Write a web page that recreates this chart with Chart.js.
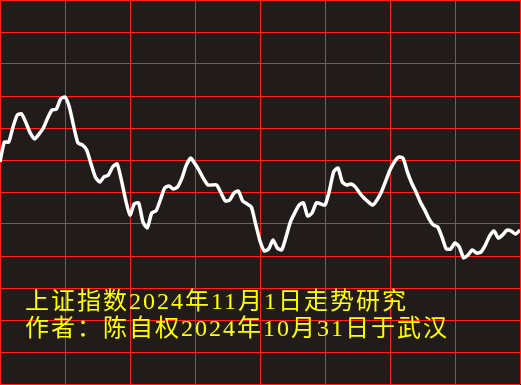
<!DOCTYPE html>
<html>
<head>
<meta charset="utf-8">
<script src="https://cdn.jsdelivr.net/npm/chart.js@4"></script>
<style>
  body { margin: 0; background: #211c1a; }
  #wrap { position: relative; width: 521px; height: 385px; }
  .note {
    position: absolute; left: 25px;
    color: #ffff00;
    font-family: "Liberation Serif", "Noto Sans CJK SC", serif;
    font-size: 24px; line-height: 27px;
    letter-spacing: 2px;
    white-space: nowrap;
  }
</style>
</head>
<body>
<div id="wrap">
  <canvas id="trend" width="521" height="385"></canvas>
  <div class="note" style="top:288px">上证指数2024年11月1日走势研究</div>
  <div class="note" style="top:315px">作者：陈自权2024年10月31日于武汉</div>
</div>
<script>
'use strict'

// 分时走势（每2分钟一个点，纵轴单位=格）
const minutes = Array.from({ length: 121 }, (_, i) => i * 2);
const trendValues = [
  6.94, 7.56, 7.56, 8.03, 8.41, 8.44, 8.16, 7.84, 7.66, 7.81,
  8.00, 8.31, 8.56, 8.59, 8.91, 8.97, 8.66, 8.06, 7.53, 7.47,
  7.31, 6.88, 6.47, 6.31, 6.47, 6.53, 6.78, 6.88, 6.38, 5.75,
  5.28, 5.63, 5.66, 5.06, 4.88, 5.34, 5.41, 5.75, 6.13, 6.19,
  6.09, 6.16, 6.44, 6.84, 7.06, 6.88, 6.66, 6.41, 6.22, 6.22,
  6.22, 5.97, 5.72, 5.75, 5.97, 6.03, 5.72, 5.63, 5.53, 5.00,
  4.47, 4.16, 4.22, 4.50, 4.25, 4.19, 4.59, 5.06, 5.34, 5.59,
  5.66, 5.25, 5.34, 5.66, 5.63, 5.59, 6.03, 6.63, 6.75, 6.31,
  6.22, 6.25, 6.16, 5.97, 5.81, 5.69, 5.59, 5.75, 6.00, 6.34,
  6.69, 6.94, 7.09, 7.06, 6.63, 6.28, 6.00, 5.69, 5.44, 5.16,
  4.97, 4.91, 4.59, 4.22, 4.22, 4.41, 4.28, 3.94, 4.03, 4.19,
  4.09, 4.13, 4.34, 4.63, 4.78, 4.56, 4.66, 4.81, 4.78, 4.69,
  4.81
];

const points = minutes.map((m, i) => ({ x: m, y: trendValues[i] }));

const ctx = document.getElementById('trend');
const myChart = new Chart(ctx, {
  type: 'line',
  data: {
    datasets: [{
      data: points,
      borderColor: '#ffffff',
      borderWidth: 3.5,
      pointRadius: 0,
      tension: 0.2,
      fill: false
    }]
  },
  options: {
    responsive: false,
    animation: false,
    devicePixelRatio: 1,
    layout: {
      padding: { top: 0, left: 0, right: 1, bottom: 1 }
    },
    scales: {
      x: {
        type: 'linear',
        min: 0,
        max: 240,
        ticks: { stepSize: 30, display: false },
        grid: { color: '#ff2020', lineWidth: 1, drawTicks: false },
        border: { display: false }
      },
      y: {
        min: 0,
        max: 12,
        ticks: { stepSize: 1, display: false },
        grid: { color: '#ff2020', lineWidth: 1, drawTicks: false },
        border: { display: false }
      }
    },
    plugins: {
      legend: { display: false },
      tooltip: { enabled: false }
    }
  }
});
</script>
</body>
</html>
